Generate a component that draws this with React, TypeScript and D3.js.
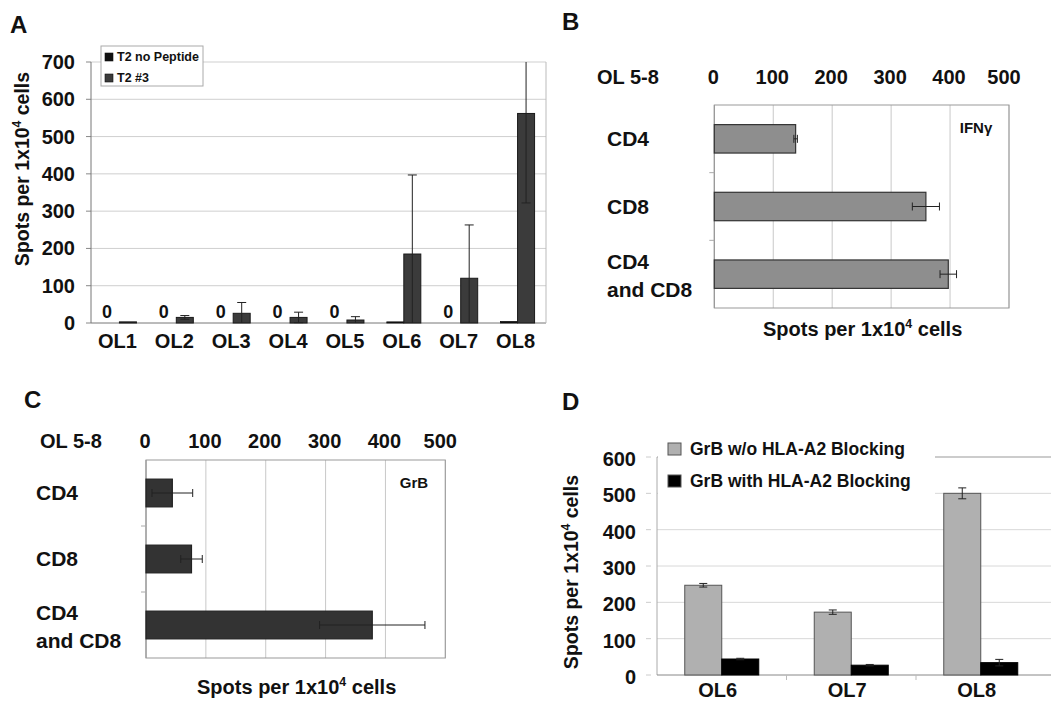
import React from "react";
import * as d3 from "d3";

// ---------- Data ----------
// Panel A
const catsA = ["OL1", "OL2", "OL3", "OL4", "OL5", "OL6", "OL7", "OL8"];
const noPeptideA = [0, 0, 0, 0, 0, 3, 0, 4];
const t2n3A = [3, 15, 26, 15, 8, 185, 120, 562];
const t2n3ErrA = [0, 5, 29, 14, 9, 212, 143, 240];
const ticksA = [0, 100, 200, 300, 400, 500, 600, 700];
const legendA = ["T2 no Peptide", "T2 #3"];

// Panels B & C
const catsBC = [["CD4"], ["CD8"], ["CD4", "and CD8"]];
const ifnVals = [138, 359, 397];
const ifnErr = [3, 23, 14];
const grbVals = [44, 76, 378];
const grbErr = [34, 18, 88];
const ticksBC = [0, 100, 200, 300, 400, 500];

// Panel D
const catsD = ["OL6", "OL7", "OL8"];
const grbNoBlock = [247, 173, 500];
const grbNoBlockErr = [5, 6, 15];
const grbBlock = [44, 27, 34];
const grbBlockErr = [2, 2, 9];
const ticksD = [0, 100, 200, 300, 400, 500, 600];
const legendD = ["GrB w/o HLA-A2 Blocking", "GrB with HLA-A2 Blocking"];

const FONT = "'Liberation Sans', Arial, Helvetica, sans-serif";

function Spots({ x, y, size, rotate }: { x: number; y: number; size: number; rotate?: boolean }) {
  const sup = size * 0.62;
  const sh = size * 0.4;
  return (
    <text
      x={x}
      y={y}
      fontSize={size}
      fontWeight="bold"
      textAnchor="middle"
      transform={rotate ? `rotate(-90 ${x} ${y})` : undefined}
    >
      Spots per 1x10
      <tspan fontSize={sup} dy={-sh}>4</tspan>
      <tspan dy={sh}> cells</tspan>
    </text>
  );
}

function PanelA() {
  const x = d3.scaleBand<string>().domain(catsA).range([91, 546]);
  const y = d3.scaleLinear().domain([0, 700]).range([323, 62]);
  const bw = 17;
  const cap = 4.5;
  return (
    <g>
      <text x={10} y={33} fontSize={24} fontWeight="bold">A</text>
      {ticksA.map((t) => (
        <g key={t}>
          <line x1={91} x2={546} y1={y(t)} y2={y(t)} stroke={t === 0 ? "#777" : "#cfcfcf"} strokeWidth={1} />
          <line x1={86} x2={91} y1={y(t)} y2={y(t)} stroke="#888" />
          <text x={75} y={y(t) + 7} fontSize={20} fontWeight="bold" textAnchor="end">{t}</text>
        </g>
      ))}
      <line x1={91} x2={91} y1={62} y2={323} stroke="#777" />
      <line x1={546} x2={546} y1={62} y2={323} stroke="#bbb" />
      {catsA.map((c, i) => {
        const cx = (x(c) as number) + x.bandwidth() / 2;
        const v = t2n3A[i];
        const e = t2n3ErrA[i];
        const hi = Math.min(700, v + e);
        const lo = Math.max(0, v - e);
        const ex = cx + bw / 2;
        return (
          <g key={c}>
            {noPeptideA[i] > 0 && (
              <rect x={cx - bw} y={y(noPeptideA[i])} width={bw} height={y(0) - y(noPeptideA[i])} fill="#111" stroke="#111" strokeWidth={0.8} />
            )}
            <rect x={cx} y={y(v)} width={bw} height={y(0) - y(v)} fill="#3b3b3b" stroke="#1a1a1a" strokeWidth={1} />
            {e > 0 && (
              <g stroke="#222" strokeWidth={1}>
                <line x1={ex} x2={ex} y1={y(hi)} y2={y(lo)} />
                {v + e <= 700 && <line x1={ex - cap} x2={ex + cap} y1={y(hi)} y2={y(hi)} />}
                {v - e >= 0 && <line x1={ex - cap} x2={ex + cap} y1={y(lo)} y2={y(lo)} />}
              </g>
            )}
            {noPeptideA[i] === 0 && (
              <text x={cx - bw / 2 - 4} y={318} fontSize={18} fontWeight="bold" textAnchor="middle">0</text>
            )}
            <text x={cx - 2} y={348} fontSize={20} fontWeight="bold" textAnchor="middle">{c}</text>
          </g>
        );
      })}
      <Spots x={29} y={169} size={19.5} rotate />
      <rect x={101} y={46} width={102} height={40} fill="#fff" stroke="#aaa" />
      {legendA.map((l, i) => (
        <g key={l}>
          <rect x={105} y={53 + i * 21} width={8} height={8} fill={i === 0 ? "#111" : "#3b3b3b"} stroke="#111" strokeWidth={0.6} />
          <text x={117} y={61 + i * 21} fontSize={12.5} fontWeight="bold">{l}</text>
        </g>
      ))}
    </g>
  );
}

function HPanel({
  letter, lx, ly, x0, x1, y0, y1, vals, errs, fill, stroke, tag, tagX, tagY, labelX, tickY, olX, titleY,
}: any) {
  const x = d3.scaleLinear().domain([0, 500]).range([x0, x1]);
  const idx = catsBC.map((_, i) => String(i));
  const yb = d3.scaleBand<string>().domain(idx).range([y0, y1]).paddingInner(0.58).paddingOuter(0.29);
  const step = yb.step();
  const cap = 4;
  return (
    <g>
      <text x={lx} y={ly} fontSize={24} fontWeight="bold">{letter}</text>
      <text x={olX} y={tickY} fontSize={20} fontWeight="bold">OL 5-8</text>
      {ticksBC.map((t) => (
        <g key={t}>
          <line x1={x(t)} x2={x(t)} y1={y0} y2={y1} stroke={t === 0 ? "#888" : "#c8c8c8"} />
          <text x={x(t) - (t === 500 ? 5 : 1)} y={tickY} fontSize={20} fontWeight="bold" textAnchor="middle">{t}</text>
        </g>
      ))}
      <rect x={x0} y={y0} width={x1 - x0} height={y1 - y0} fill="none" stroke="#999" />
      {[1, 2].map((k) => (
        <line key={k} x1={x0 - 5} x2={x0} y1={y0 + k * step} y2={y0 + k * step} stroke="#aaa" />
      ))}
      {catsBC.map((lines, i) => {
        const by = yb(String(i)) as number;
        const cy = by + yb.bandwidth() / 2;
        const v = vals[i];
        const e = errs[i];
        return (
          <g key={i}>
            <rect x={x(0)} y={by} width={x(v) - x(0)} height={yb.bandwidth()} fill={fill} stroke={stroke} strokeWidth={1.2} />
            <g stroke="#222" strokeWidth={1}>
              <line x1={x(v - e)} x2={x(v + e)} y1={cy} y2={cy} />
              <line x1={x(v - e)} x2={x(v - e)} y1={cy - cap} y2={cy + cap} />
              <line x1={x(v + e)} x2={x(v + e)} y1={cy - cap} y2={cy + cap} />
            </g>
            {lines.length === 1 ? (
              <text x={labelX} y={cy + 7} fontSize={21} fontWeight="bold">{lines[0]}</text>
            ) : (
              <g>
                <text x={labelX} y={cy - 5} fontSize={21} fontWeight="bold">{lines[0]}</text>
                <text x={labelX} y={cy + 23} fontSize={21} fontWeight="bold">{lines[1]}</text>
              </g>
            )}
          </g>
        );
      })}
      <text x={tagX} y={tagY} fontSize={15} fontWeight="bold" textAnchor="middle">{tag}</text>
      <Spots x={(x0 + x1) / 2 + 1} y={titleY} size={20} />
    </g>
  );
}

function PanelD() {
  const x0 = 657;
  const band = 129.5;
  const x = d3.scaleBand<string>().domain(catsD).range([x0, x0 + band * 3]);
  const y = d3.scaleLinear().domain([0, 600]).range([675, 457]);
  const bw = 37;
  const cap = 4;
  const err = (cx: number, v: number, e: number) => (
    <g stroke="#222" strokeWidth={1}>
      <line x1={cx} x2={cx} y1={y(v + e)} y2={y(v - e)} />
      <line x1={cx - cap} x2={cx + cap} y1={y(v + e)} y2={y(v + e)} />
      <line x1={cx - cap} x2={cx + cap} y1={y(v - e)} y2={y(v - e)} />
    </g>
  );
  return (
    <g>
      <text x={562} y={410} fontSize={24} fontWeight="bold">D</text>
      {ticksD.map((t) => (
        <g key={t}>
          {t > 0 && (
            <line x1={x0} x2={1060} y1={y(t)} y2={y(t)} stroke={t === 600 ? "#999" : "#d8d8d8"} />
          )}
          <line x1={646} x2={651} y1={y(t)} y2={y(t)} stroke="#ccc" />
          <text x={636} y={y(t) + 9} fontSize={20} fontWeight="bold" textAnchor="end">{t}</text>
        </g>
      ))}
      <line x1={x0} x2={x0} y1={457} y2={675} stroke="#aaa" />
      <line x1={x0} x2={1060} y1={675} y2={675} stroke="#888" />
      {[1, 2].map((k) => (
        <line key={k} x1={x0 + k * band} x2={x0 + k * band} y1={675} y2={680} stroke="#bbb" />
      ))}
      {catsD.map((c, i) => {
        const cx = (x(c) as number) + band / 2;
        return (
          <g key={c}>
            <rect x={cx - bw} y={y(grbNoBlock[i])} width={bw} height={y(0) - y(grbNoBlock[i])} fill="#b0b0b0" stroke="#555" strokeWidth={1} />
            <rect x={cx} y={y(grbBlock[i])} width={bw} height={y(0) - y(grbBlock[i])} fill="#000" stroke="#000" strokeWidth={1} />
            {err(cx - bw / 2, grbNoBlock[i], grbNoBlockErr[i])}
            {err(cx + bw / 2, grbBlock[i], grbBlockErr[i])}
            <text x={cx - 4} y={697} fontSize={20} fontWeight="bold" textAnchor="middle">{c}</text>
          </g>
        );
      })}
      <rect x={658} y={436} width={277} height={62} fill="#fff" />
      {legendD.map((l, i) => (
        <g key={l}>
          <rect x={668} y={443 + i * 32} width={13} height={12} fill={i === 0 ? "#b0b0b0" : "#000"} stroke="#555" strokeWidth={1} />
          <text x={690} y={455 + i * 32} fontSize={17.5} fontWeight="bold">{l}</text>
        </g>
      ))}
      <Spots x={578} y={572} size={19.5} rotate />
    </g>
  );
}

export default function App() {
  return (
    <svg
      width={1051}
      height={703}
      viewBox="0 0 1051 703"
      style={{ position: "absolute", left: 0, top: 0, background: "#fff" }}
      fontFamily={FONT}
      fill="#111"
    >
      <rect x={0} y={0} width={1051} height={703} fill="#fff" />
      <PanelA />
      <HPanel
        letter="B" lx={562} ly={30} x0={714.3} x1={1009} y0={105} y1={308}
        vals={ifnVals} errs={ifnErr} fill="#8e8e8e" stroke="#333" tag="IFNγ" tagX={976} tagY={133}
        labelX={607} tickY={84} olX={597} titleY={336}
      />
      <HPanel
        letter="C" lx={24} ly={408} x0={146} x1={445.3} y0={460} y1={658}
        vals={grbVals} errs={grbErr} fill="#333" stroke="#222" tag="GrB" tagX={414} tagY={488}
        labelX={36} tickY={448} olX={40} titleY={694}
      />
      <PanelD />
    </svg>
  );
}
